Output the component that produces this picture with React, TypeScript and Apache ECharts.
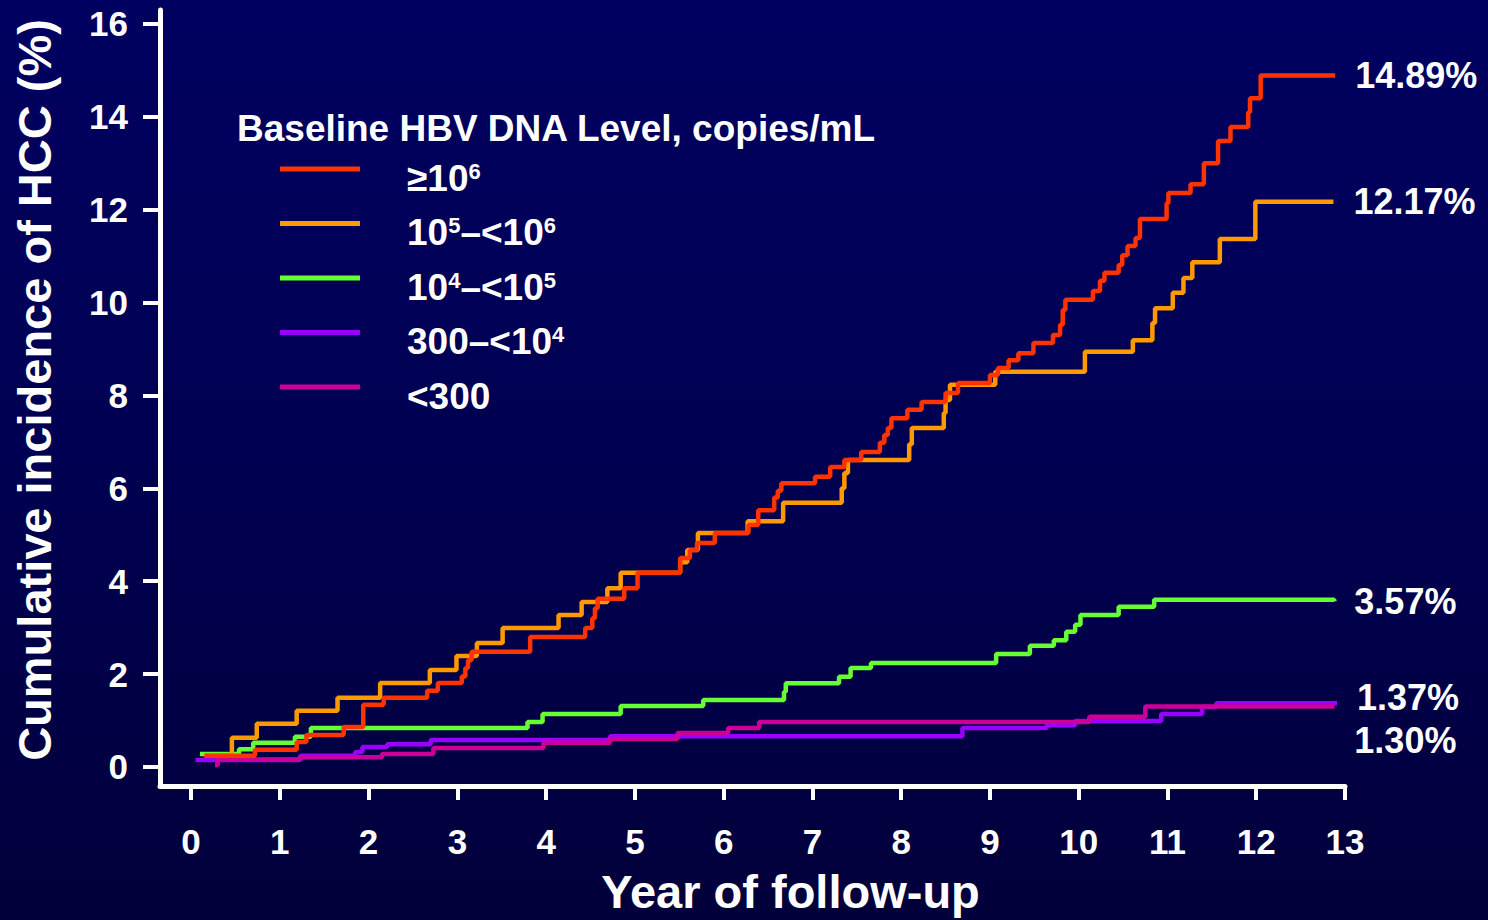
import React, { useEffect, useRef } from 'react';
import * as echarts from 'echarts';

// Cumulative incidence of HCC (%) by year of follow-up, one step curve per baseline HBV DNA group.
// Each pair is [year, cumulative incidence from that year on].
const seriesNames = ['≥10⁶', '10⁵–<10⁶', '10⁴–<10⁵', '300–<10⁴', '<300'];
const legendLabels = ['≥10{s|6}', '10{s|5}–<10{s|6}', '10{s|4}–<10{s|5}', '300–<10{s|4}', '<300'];
const seriesColors = ['#FF3300', '#FF9900', '#66FF33', '#9900FF', '#CC0099'];
const seriesZ = [6, 5, 4, 2, 3];

const dnaAtLeast1e6 = [
  [0.15, 0.24], [0.72, 0.37], [1.19, 0.54], [1.3, 0.69], [1.72, 0.86], [1.94, 1.34], [2.17, 1.49],
  [2.66, 1.64], [2.78, 1.81], [3.05, 1.95], [3.09, 2.13], [3.12, 2.3], [3.16, 2.48], [3.82, 2.8],
  [4.44, 2.99], [4.52, 3.2], [4.55, 3.42], [4.58, 3.62], [4.88, 3.85], [5.03, 4.18], [5.51, 4.5],
  [5.62, 4.67], [5.7, 4.82], [5.9, 5.04], [6.28, 5.21], [6.39, 5.53], [6.57, 5.8], [6.61, 5.95],
  [6.65, 6.11], [7.03, 6.25], [7.2, 6.46], [7.36, 6.61], [7.55, 6.78], [7.76, 6.98], [7.81, 7.15],
  [7.85, 7.3], [7.89, 7.51], [8.07, 7.69], [8.23, 7.86], [8.5, 8.05], [8.64, 8.27], [9.0, 8.44],
  [9.09, 8.59], [9.21, 8.76], [9.32, 8.91], [9.49, 9.13], [9.71, 9.3], [9.79, 9.52], [9.82, 9.84],
  [9.85, 10.06], [10.16, 10.25], [10.24, 10.47], [10.29, 10.64], [10.45, 10.81], [10.49, 11.02],
  [10.55, 11.22], [10.64, 11.39], [10.69, 11.8], [10.99, 12.14], [11.01, 12.36], [11.26, 12.55],
  [11.41, 13.0], [11.57, 13.48], [11.71, 13.78], [11.91, 14.1], [11.93, 14.4], [12.05, 14.89],
  [12.89, 14.89],
];

const dna1e5To1e6 = [
  [0.15, 0.25], [0.46, 0.63], [0.74, 0.93], [1.19, 1.21], [1.65, 1.49], [2.13, 1.81], [2.69, 2.09],
  [2.99, 2.39], [3.22, 2.67], [3.51, 2.99], [4.14, 3.27], [4.4, 3.55], [4.69, 3.85], [4.84, 4.18],
  [5.51, 4.41], [5.59, 4.67], [5.71, 5.04], [6.27, 5.29], [6.67, 5.69], [7.33, 6.0], [7.36, 6.33],
  [7.4, 6.61], [8.09, 6.95], [8.12, 7.3], [8.48, 7.62], [8.5, 7.9], [8.55, 8.23], [9.06, 8.51],
  [10.07, 8.94], [10.61, 9.19], [10.83, 9.56], [10.86, 9.88], [11.06, 10.21], [11.18, 10.53],
  [11.28, 10.87], [11.59, 11.37], [11.99, 12.17], [12.87, 12.17],
];

const dna1e4To1e5 = [
  [0.1, 0.28], [0.54, 0.38], [0.7, 0.52], [1.17, 0.65], [1.35, 0.84], [3.79, 0.97], [3.96, 1.14],
  [4.84, 1.31], [5.77, 1.44], [6.68, 1.62], [6.7, 1.8], [7.3, 1.94], [7.43, 2.13], [7.66, 2.24],
  [9.07, 2.43], [9.45, 2.61], [9.72, 2.73], [9.86, 2.91], [9.96, 3.06], [10.02, 3.27], [10.45, 3.45],
  [10.85, 3.6], [12.88, 3.57],
];

const dna300To1e4 = [
  [0.05, 0.15], [1.23, 0.24], [1.85, 0.32], [1.93, 0.43], [2.21, 0.49], [2.7, 0.58], [4.72, 0.66],
  [8.69, 0.84], [9.64, 0.9], [9.96, 0.99], [10.93, 1.14], [11.39, 1.29], [11.55, 1.37], [12.91, 1.37],
];

const dnaBelow300 = [
  [0.27, 0.04], [0.3, 0.16], [1.23, 0.21], [2.15, 0.28], [2.73, 0.41], [3.97, 0.52], [4.72, 0.6],
  [5.48, 0.73], [6.05, 0.84], [6.4, 0.97], [10.12, 1.08], [10.75, 1.3], [12.88, 1.3],
];

const seriesData = [dnaAtLeast1e6, dna1e5To1e6, dna1e4To1e5, dna300To1e4, dnaBelow300];
const endLabelOffsets = [[0, 0], [0, 0], [0, 0], [0, -6], [0, 34]];

const xTicks = [0, 1, 2, 3, 4, 5, 6, 7, 8, 9, 10, 11, 12, 13];
const yTicks = [0, 2, 4, 6, 8, 10, 12, 14, 16];

const FONT = '"Liberation Sans", Arial, Helvetica, sans-serif';

export default function App() {
  const ref = useRef<HTMLDivElement>(null);

  useEffect(() => {
    if (!ref.current) return;
    const chart = echarts.init(ref.current, undefined, { renderer: 'svg' });

    const series = seriesData.map((data, i) => ({
      name: seriesNames[i],
      type: 'line',
      step: 'end',
      data,
      z: seriesZ[i],
      symbol: 'none',
      color: seriesColors[i],
      lineStyle: { color: seriesColors[i], width: 4.5 },
      itemStyle: { color: seriesColors[i] },
      endLabel: {
        show: true,
        formatter: (p: any) => `${Number(p.value[1]).toFixed(2)}%`,
        color: '#ffffff',
        fontFamily: FONT,
        fontWeight: 'bold',
        fontSize: 36,
        distance: 20,
        offset: endLabelOffsets[i],
      },
    }));

    chart.setOption({
      animation: false,
      backgroundColor: 'transparent',
      textStyle: { fontFamily: FONT },
      title: {
        text: 'Baseline HBV DNA Level, copies/mL',
        left: 237,
        top: 110,
        padding: 0,
        textStyle: { color: '#ffffff', fontFamily: FONT, fontWeight: 'bold', fontSize: 37 },
      },
      legend: {
        orient: 'vertical',
        left: 280,
        top: 142,
        padding: 0,
        itemGap: 0,
        itemWidth: 80,
        itemHeight: 5,
        icon: 'rect',
        selectedMode: false,
        data: seriesNames,
        formatter: (name: string) => legendLabels[seriesNames.indexOf(name)],
        textStyle: {
          color: '#ffffff',
          fontFamily: FONT,
          fontWeight: 'bold',
          fontSize: 37,
          lineHeight: 36,
          padding: [18, 0, 0, 42],
          rich: {
            s: {
              color: '#ffffff',
              fontFamily: FONT,
              fontWeight: 'bold',
              fontSize: 22,
              lineHeight: 25,
              verticalAlign: 'top',
            },
          },
        },
      },
      grid: { left: 160, right: 143, top: 10, bottom: 134, containLabel: false, outerBoundsMode: 'none' },
      xAxis: {
        type: 'value',
        min: -0.35,
        max: 13,
        name: 'Year of follow-up',
        nameLocation: 'middle',
        nameGap: 82,
        nameTextStyle: {
          color: '#ffffff',
          fontFamily: FONT,
          fontWeight: 'bold',
          fontSize: 47,
          lineHeight: 47,
          padding: [0, 0, 0, 76],
        },
        axisLine: { show: true, onZero: false, lineStyle: { color: '#ffffff', width: 5 } },
        axisTick: { show: true, length: 14, lineStyle: { color: '#ffffff', width: 4 }, customValues: xTicks },
        axisLabel: { color: '#ffffff', fontFamily: FONT, fontWeight: 'bold', fontSize: 35, margin: 38, customValues: xTicks },
        splitLine: { show: false },
      },
      yAxis: {
        type: 'value',
        min: -0.41,
        max: 16.3,
        name: 'Cumulative incidence of HCC (%)',
        nameLocation: 'middle',
        nameRotate: 90,
        nameGap: 102,
        nameTextStyle: { color: '#ffffff', fontFamily: FONT, fontWeight: 'bold', fontSize: 47, padding: [0, 0, 0, 16] },
        axisLine: { show: true, onZero: false, lineStyle: { color: '#ffffff', width: 5 } },
        axisTick: { show: true, length: 17, lineStyle: { color: '#ffffff', width: 4 }, customValues: yTicks },
        axisLabel: { color: '#ffffff', fontFamily: FONT, fontWeight: 'bold', fontSize: 35, margin: 32, customValues: yTicks },
        splitLine: { show: false },
      },
      series,
    });

    return () => chart.dispose();
  }, []);

  return (
    <div
      style={{
        position: 'fixed',
        left: 0,
        top: 0,
        width: 1488,
        height: 920,
        background: 'linear-gradient(to bottom, #000060 0%, #000050 55%, #02003A 100%)',
      }}
    >
      <div ref={ref} style={{ width: 1488, height: 920 }} />
    </div>
  );
}
